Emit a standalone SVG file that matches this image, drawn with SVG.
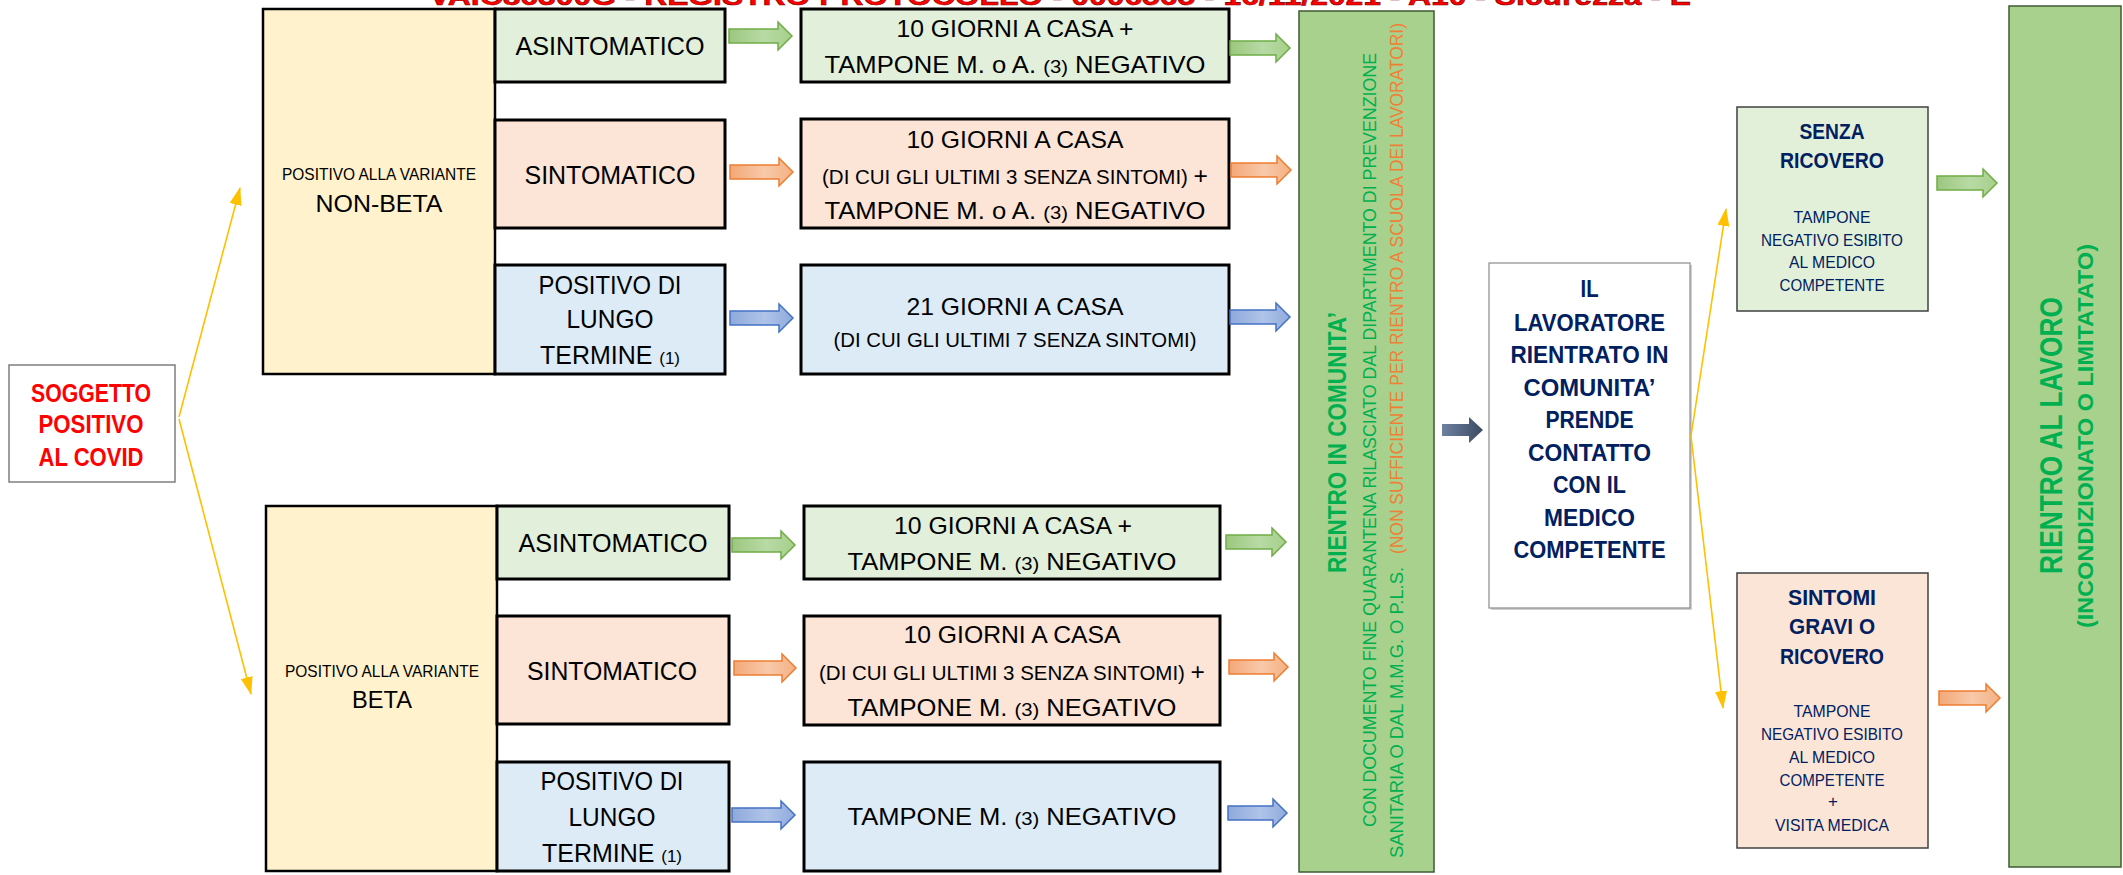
<svg xmlns="http://www.w3.org/2000/svg" width="2123" height="875" viewBox="0 0 2123 875">
<defs>
<style>
text{font-family:"Liberation Sans",Arial,sans-serif;}
.m{text-anchor:middle;}
.k{fill:#000;}
.red{fill:#FF0000;font-weight:bold;}
.nv{fill:#002060;font-weight:bold;}
.nvs{fill:#002060;}
.gr{fill:#00B050;}
.or{fill:#F07F35;}
.bd{font-weight:bold;}
.cell{stroke:#000;stroke-width:3;}
.ye{fill:#FFF2CC;stroke:#000;stroke-width:2.5;}
.cg{fill:#E2EFDA;}
.co{fill:#FCE4D6;}
.cb{fill:#DDEBF7;}
.big{fill:#A9D18E;stroke:#3F5A33;stroke-width:1.5;}
.ag{fill:url(#gG);stroke:#70AD47;stroke-width:1.5;}
.ao{fill:url(#gO);stroke:#ED7D31;stroke-width:1.5;}
.ab{fill:url(#gB);stroke:#4472C4;stroke-width:1.5;}
.an{fill:url(#gN);}
.yl{stroke:#FFC000;stroke-width:1.6;fill:none;marker-end:url(#ya);}
</style>
<linearGradient id="gG" x1="0" y1="0" x2="1" y2="0"><stop offset="0" stop-color="#9CC77F"/><stop offset="0.55" stop-color="#B8DAA5"/><stop offset="1" stop-color="#A6CF8B"/></linearGradient>
<linearGradient id="gO" x1="0" y1="0" x2="1" y2="0"><stop offset="0" stop-color="#F3A878"/><stop offset="0.55" stop-color="#F8C9AA"/><stop offset="1" stop-color="#F4B183"/></linearGradient>
<linearGradient id="gB" x1="0" y1="0" x2="1" y2="0"><stop offset="0" stop-color="#8EA9DB"/><stop offset="0.55" stop-color="#B0C4E8"/><stop offset="1" stop-color="#8FAADC"/></linearGradient>
<linearGradient id="gN" x1="0" y1="0" x2="1" y2="0"><stop offset="0" stop-color="#6E81A0"/><stop offset="1" stop-color="#3B4B64"/></linearGradient>
<marker id="ya" viewBox="0 0 18 12" refX="17" refY="6" markerWidth="18" markerHeight="12" markerUnits="userSpaceOnUse" orient="auto"><path d="M0,0 L18,6 L0,12 Z" fill="#FFC000"/></marker>
</defs>
<rect width="2123" height="875" fill="#FFFFFF"/>

<g id="title">
<text x="429" y="5" class="red" font-size="26" stroke="#7A0000" stroke-width="0.6" textLength="1262" lengthAdjust="spacingAndGlyphs">VAIC86300G - REGISTRO PROTOCOLLO - 0006565 - 16/11/2021 - A10 - Sicurezza - E</text>
</g>

<g id="soggetto">
<rect x="9" y="365" width="166" height="117" fill="#FFFFFF" stroke="#7F7F7F" stroke-width="1.5"/>
<text x="91" y="402" class="m red" font-size="25" textLength="120" lengthAdjust="spacingAndGlyphs">SOGGETTO</text>
<text x="91" y="433" class="m red" font-size="25" textLength="105" lengthAdjust="spacingAndGlyphs">POSITIVO</text>
<text x="91" y="466" class="m red" font-size="25" textLength="105" lengthAdjust="spacingAndGlyphs">AL COVID</text>
</g>

<g id="non-beta">
<rect x="263" y="9" width="232" height="365" class="ye"/>
<text x="379" y="180" class="m k" font-size="16.5" textLength="194" lengthAdjust="spacingAndGlyphs">POSITIVO ALLA VARIANTE</text>
<text x="379" y="212" class="m k" font-size="24" textLength="127" lengthAdjust="spacingAndGlyphs">NON-BETA</text>
</g>
<g id="nb-asintomatico">
<rect x="495" y="9" width="230" height="73" class="cell cg"/>
<text x="610" y="55" class="m k" font-size="25" textLength="189" lengthAdjust="spacingAndGlyphs">ASINTOMATICO</text>
</g>
<g id="nb-sintomatico">
<rect x="495" y="120" width="230" height="108" class="cell co"/>
<text x="610" y="184" class="m k" font-size="25" textLength="171" lengthAdjust="spacingAndGlyphs">SINTOMATICO</text>
</g>
<g id="nb-lungo">
<rect x="495" y="265" width="230" height="109" class="cell cb"/>
<text x="610" y="294" class="m k" font-size="25" textLength="143" lengthAdjust="spacingAndGlyphs">POSITIVO DI</text>
<text x="610" y="328" class="m k" font-size="25" textLength="87" lengthAdjust="spacingAndGlyphs">LUNGO</text>
<text x="610" y="364" class="m k" font-size="25" textLength="140" lengthAdjust="spacingAndGlyphs">TERMINE <tspan font-size="17">(1)</tspan></text>
</g>

<g id="beta">
<rect x="266" y="506" width="231" height="365" class="ye"/>
<text x="382" y="677" class="m k" font-size="16.5" textLength="194" lengthAdjust="spacingAndGlyphs">POSITIVO ALLA VARIANTE</text>
<text x="382" y="708" class="m k" font-size="24" textLength="60" lengthAdjust="spacingAndGlyphs">BETA</text>
</g>
<g id="b-asintomatico">
<rect x="497" y="506" width="232" height="73" class="cell cg"/>
<text x="613" y="552" class="m k" font-size="25" textLength="189" lengthAdjust="spacingAndGlyphs">ASINTOMATICO</text>
</g>
<g id="b-sintomatico">
<rect x="497" y="616" width="232" height="108" class="cell co"/>
<text x="612" y="680" class="m k" font-size="25" textLength="170" lengthAdjust="spacingAndGlyphs">SINTOMATICO</text>
</g>
<g id="b-lungo">
<rect x="497" y="762" width="232" height="109" class="cell cb"/>
<text x="612" y="790" class="m k" font-size="25" textLength="143" lengthAdjust="spacingAndGlyphs">POSITIVO DI</text>
<text x="612" y="826" class="m k" font-size="25" textLength="87" lengthAdjust="spacingAndGlyphs">LUNGO</text>
<text x="612" y="862" class="m k" font-size="25" textLength="140" lengthAdjust="spacingAndGlyphs">TERMINE <tspan font-size="17">(1)</tspan></text>
</g>

<g id="nb-asint-esito">
<rect x="801" y="9" width="428" height="73" class="cell cg"/>
<text x="1015" y="37" class="m k" font-size="24" textLength="237" lengthAdjust="spacingAndGlyphs">10 GIORNI A CASA +</text>
<text x="1015" y="73" class="m k" font-size="24" textLength="381" lengthAdjust="spacingAndGlyphs">TAMPONE M. o A. <tspan font-size="19">(3)</tspan> NEGATIVO</text>
</g>
<g id="nb-sint-esito">
<rect x="801" y="119" width="428" height="109" class="cell co"/>
<text x="1015" y="148" class="m k" font-size="24" textLength="217" lengthAdjust="spacingAndGlyphs">10 GIORNI A CASA</text>
<text x="1015" y="184" class="m k" font-size="20" textLength="386" lengthAdjust="spacingAndGlyphs">(DI CUI GLI ULTIMI 3 SENZA SINTOMI) <tspan font-size="24">+</tspan></text>
<text x="1015" y="219" class="m k" font-size="24" textLength="381" lengthAdjust="spacingAndGlyphs">TAMPONE M. o A. <tspan font-size="19">(3)</tspan> NEGATIVO</text>
</g>
<g id="nb-lungo-esito">
<rect x="801" y="265" width="428" height="109" class="cell cb"/>
<text x="1015" y="315" class="m k" font-size="24" textLength="217" lengthAdjust="spacingAndGlyphs">21 GIORNI A CASA</text>
<text x="1015" y="347" class="m k" font-size="20" textLength="363" lengthAdjust="spacingAndGlyphs">(DI CUI GLI ULTIMI 7 SENZA SINTOMI)</text>
</g>

<g id="b-asint-esito">
<rect x="804" y="506" width="416" height="73" class="cell cg"/>
<text x="1013" y="534" class="m k" font-size="24" textLength="238" lengthAdjust="spacingAndGlyphs">10 GIORNI A CASA +</text>
<text x="1012" y="570" class="m k" font-size="24" textLength="329" lengthAdjust="spacingAndGlyphs">TAMPONE M. <tspan font-size="19">(3)</tspan> NEGATIVO</text>
</g>
<g id="b-sint-esito">
<rect x="804" y="616" width="416" height="109" class="cell co"/>
<text x="1012" y="643" class="m k" font-size="24" textLength="217" lengthAdjust="spacingAndGlyphs">10 GIORNI A CASA</text>
<text x="1012" y="680" class="m k" font-size="20" textLength="386" lengthAdjust="spacingAndGlyphs">(DI CUI GLI ULTIMI 3 SENZA SINTOMI) <tspan font-size="24">+</tspan></text>
<text x="1012" y="716" class="m k" font-size="24" textLength="329" lengthAdjust="spacingAndGlyphs">TAMPONE M. <tspan font-size="19">(3)</tspan> NEGATIVO</text>
</g>
<g id="b-lungo-esito">
<rect x="804" y="762" width="416" height="109" class="cell cb"/>
<text x="1012" y="825" class="m k" font-size="24" textLength="329" lengthAdjust="spacingAndGlyphs">TAMPONE M. <tspan font-size="19">(3)</tspan> NEGATIVO</text>
</g>

<g id="rientro-comunita">
<rect x="1299" y="11" width="135" height="861" class="big"/>
<text transform="translate(1346,573) rotate(-90)" class="gr bd" font-size="25" textLength="261" lengthAdjust="spacingAndGlyphs">RIENTRO IN COMUNITA’</text>
<text transform="translate(1376,827) rotate(-90)" class="gr" font-size="19" textLength="774" lengthAdjust="spacingAndGlyphs">CON DOCUMENTO FINE QUARANTENA RILASCIATO DAL DIPARTIMENTO DI PREVENZIONE</text>
<text transform="translate(1403,858) rotate(-90)" class="gr" font-size="19" textLength="291" lengthAdjust="spacingAndGlyphs">SANITARIA O DAL M.M.G. O P.L.S.</text>
<text transform="translate(1403,554) rotate(-90)" class="or" font-size="19" textLength="531" lengthAdjust="spacingAndGlyphs">(NON SUFFICIENTE PER RIENTRO A SCUOLA DEI LAVORATORI)</text>
</g>

<g id="lavoratore">
<rect x="1491" y="265" width="201" height="345" fill="#D0D0D0"/>
<rect x="1489" y="263" width="201" height="345" fill="#FFFFFF" stroke="#8C8C8C" stroke-width="1.2"/>
<text x="1589.5" y="297" class="m nv" font-size="24" textLength="18" lengthAdjust="spacingAndGlyphs">IL</text>
<text x="1589.5" y="331" class="m nv" font-size="24" textLength="151" lengthAdjust="spacingAndGlyphs">LAVORATORE</text>
<text x="1589.5" y="363" class="m nv" font-size="24" textLength="158" lengthAdjust="spacingAndGlyphs">RIENTRATO IN</text>
<text x="1589.5" y="396" class="m nv" font-size="24" textLength="132" lengthAdjust="spacingAndGlyphs">COMUNITA’</text>
<text x="1589.5" y="428" class="m nv" font-size="24" textLength="88" lengthAdjust="spacingAndGlyphs">PRENDE</text>
<text x="1589.5" y="461" class="m nv" font-size="24" textLength="123" lengthAdjust="spacingAndGlyphs">CONTATTO</text>
<text x="1589.5" y="493" class="m nv" font-size="24" textLength="73" lengthAdjust="spacingAndGlyphs">CON IL</text>
<text x="1589.5" y="526" class="m nv" font-size="24" textLength="91" lengthAdjust="spacingAndGlyphs">MEDICO</text>
<text x="1589.5" y="558" class="m nv" font-size="24" textLength="152" lengthAdjust="spacingAndGlyphs">COMPETENTE</text>
</g>

<g id="senza-ricovero">
<rect x="1737" y="107" width="191" height="204" fill="#E2F0D9" stroke="#404040" stroke-width="1.5"/>
<text x="1832" y="139" class="m nv" font-size="22" textLength="65" lengthAdjust="spacingAndGlyphs">SENZA</text>
<text x="1832" y="168" class="m nv" font-size="22" textLength="104" lengthAdjust="spacingAndGlyphs">RICOVERO</text>
<text x="1832" y="223" class="m nvs" font-size="17" textLength="77" lengthAdjust="spacingAndGlyphs">TAMPONE</text>
<text x="1832" y="246" class="m nvs" font-size="17" textLength="142" lengthAdjust="spacingAndGlyphs">NEGATIVO ESIBITO</text>
<text x="1832" y="268" class="m nvs" font-size="17" textLength="86" lengthAdjust="spacingAndGlyphs">AL MEDICO</text>
<text x="1832" y="291" class="m nvs" font-size="17" textLength="105" lengthAdjust="spacingAndGlyphs">COMPETENTE</text>
</g>

<g id="sintomi-gravi">
<rect x="1737" y="573" width="191" height="275" fill="#FBE5D6" stroke="#404040" stroke-width="1.5"/>
<text x="1832" y="605" class="m nv" font-size="22" textLength="88" lengthAdjust="spacingAndGlyphs">SINTOMI</text>
<text x="1832" y="634" class="m nv" font-size="22" textLength="86" lengthAdjust="spacingAndGlyphs">GRAVI O</text>
<text x="1832" y="664" class="m nv" font-size="22" textLength="104" lengthAdjust="spacingAndGlyphs">RICOVERO</text>
<text x="1832" y="717" class="m nvs" font-size="17" textLength="77" lengthAdjust="spacingAndGlyphs">TAMPONE</text>
<text x="1832" y="740" class="m nvs" font-size="17" textLength="142" lengthAdjust="spacingAndGlyphs">NEGATIVO ESIBITO</text>
<text x="1832" y="763" class="m nvs" font-size="17" textLength="86" lengthAdjust="spacingAndGlyphs">AL MEDICO</text>
<text x="1832" y="786" class="m nvs" font-size="17" textLength="105" lengthAdjust="spacingAndGlyphs">COMPETENTE</text>
<text x="1833" y="807" class="m nvs" font-size="17">+</text>
<text x="1832" y="831" class="m nvs" font-size="17" textLength="114" lengthAdjust="spacingAndGlyphs">VISITA MEDICA</text>
</g>

<g id="rientro-lavoro">
<rect x="2009" y="6" width="112" height="861" class="big"/>
<text transform="translate(2062,574) rotate(-90)" class="gr bd" font-size="32" textLength="277" lengthAdjust="spacingAndGlyphs">RIENTRO AL LAVORO</text>
<text transform="translate(2093,628) rotate(-90)" class="gr bd" font-size="22" textLength="384" lengthAdjust="spacingAndGlyphs">(INCONDIZIONATO O LIMITATATO)</text>
</g>

<g id="connectors">
<line x1="179" y1="417" x2="240" y2="188" class="yl"/>
<line x1="179" y1="419" x2="251" y2="694" class="yl"/>
<line x1="1691" y1="436" x2="1726" y2="209" class="yl"/>
<line x1="1691" y1="436" x2="1723" y2="708" class="yl"/>
<path class="ag" d="M729,29 H778 V22 L792,36 L778,50 V43 H729 Z"/>
<path class="ao" d="M730,165 H779 V158 L793,172 L779,186 V179 H730 Z"/>
<path class="ab" d="M730,311 H779 V304 L793,318 L779,332 V325 H730 Z"/>
<path class="ag" d="M732,538 H781 V531 L795,545 L781,559 V552 H732 Z"/>
<path class="ao" d="M734,661 H782 V654 L796,668 L782,682 V675 H734 Z"/>
<path class="ab" d="M732,808 H781 V801 L795,815 L781,829 V822 H732 Z"/>
<path class="ag" d="M1230,41 H1276 V34 L1290,48 L1276,62 V55 H1230 Z"/>
<path class="ao" d="M1231,163 H1277 V156 L1291,170 L1277,184 V177 H1231 Z"/>
<path class="ab" d="M1230,310 H1276 V303 L1290,317 L1276,331 V324 H1230 Z"/>
<path class="ag" d="M1226,535 H1272 V528 L1286,542 L1272,556 V549 H1226 Z"/>
<path class="ao" d="M1229,660 H1274 V653 L1288,667 L1274,681 V674 H1229 Z"/>
<path class="ab" d="M1228,806 H1273 V799 L1287,813 L1273,827 V820 H1228 Z"/>
<path class="an" d="M1442,424 H1469 V417 L1483,430 L1469,443 V436 H1442 Z"/>
<path class="ag" d="M1937,176 H1983 V169 L1997,183 L1983,197 V190 H1937 Z"/>
<path class="ao" d="M1939,691 H1986 V684 L2000,698 L1986,712 V705 H1939 Z"/>
</g>
</svg>
